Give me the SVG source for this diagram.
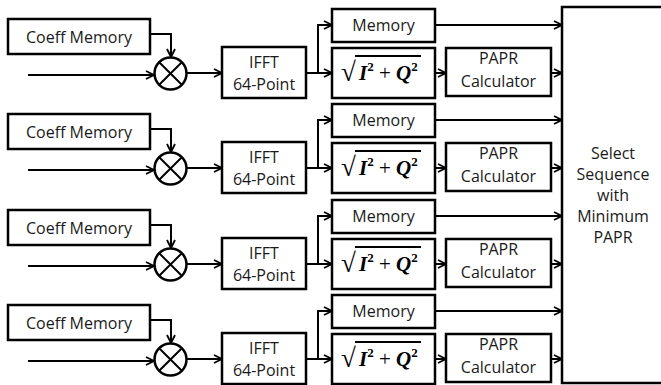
<svg xmlns="http://www.w3.org/2000/svg" width="661" height="385" viewBox="0 0 661 385">
<defs>
<style>
.box{fill:#fff;stroke:#000;stroke-width:2.5}
.lbl{font-family:"Open Sans","Liberation Sans",sans-serif;font-size:16px;fill:#1a1a1a;text-anchor:middle}
.ln{fill:none;stroke:#000;stroke-width:2}
.arr{fill:none;stroke:#000;stroke-width:2;marker-end:url(#ah)}
.fm{font-family:"Liberation Serif","Times New Roman",serif;font-weight:bold;font-style:italic;font-size:21px;fill:#000}
.sup{font-size:13px;font-style:normal;font-weight:bold}
.op{font-weight:normal;font-style:normal}
.rad{font-family:"Liberation Serif",serif;font-size:27px;fill:#000}
</style>
<marker id="ah" markerWidth="10" markerHeight="10" refX="9" refY="5" orient="auto" markerUnits="userSpaceOnUse">
<path d="M1,1 L9,5 L1,9" fill="none" stroke="#000" stroke-width="1.8"/>
</marker>
<g id="tplCoeff"><rect class="box" x="8" y="19" width="142" height="35"/><text class="lbl" x="79" y="42.5">Coeff Memory</text></g>
<g id="tplMult"><circle class="box" cx="170.5" cy="73.5" r="16"/><path class="ln" d="M159.2,62.2 L181.8,84.8 M181.8,62.2 L159.2,84.8"/></g>
<g id="tplIfft"><rect class="box" x="222" y="47" width="84" height="51"/><text class="lbl" x="264" y="68">IFFT</text><text class="lbl" x="264" y="90">64-Point</text></g>
<g id="tplMem"><rect class="box" x="332" y="9" width="103" height="33"/><text class="lbl" x="383.5" y="31">Memory</text></g>
<g id="tplSqrt"><rect class="box" x="332" y="48" width="103" height="50"/><text class="rad" x="341" y="81">√</text><line class="ln" x1="355" y1="56" x2="421" y2="56" stroke-width="1.3"/><text class="fm" x="359" y="80"><tspan>I</tspan><tspan class="sup" dy="-9">2</tspan><tspan class="op" dy="9"> + </tspan><tspan>Q</tspan><tspan class="sup" dy="-9">2</tspan></text></g>
<g id="tplPapr"><rect class="box" x="446" y="48" width="105" height="48"/><text class="lbl" x="498.5" y="64">PAPR</text><text class="lbl" x="498.5" y="87">Calculator</text></g>
<g id="tplConn">
<path class="arr" d="M28,75 H154"/>
<path class="arr" d="M150,34 H171 V57"/>
<path class="arr" d="M187,73 H222"/>
<path class="arr" d="M306,73 H332"/>
<path class="arr" d="M318,73 V25 H332"/>
<path class="arr" d="M435,25 H562"/>
<path class="arr" d="M435,73 H446"/>
<path class="arr" d="M551,73 H562"/>
</g>
</defs>
<rect x="0" y="0" width="661" height="385" fill="#fff"/>
<g id="connectors">
<use href="#tplConn"/>
<use href="#tplConn" transform="translate(0,95)"/>
<use href="#tplConn" transform="translate(0,191)"/>
<use href="#tplConn" transform="translate(0,286)"/>
</g>
<g id="coeff1"><use href="#tplCoeff"/></g>
<g id="mult1"><use href="#tplMult"/></g>
<g id="ifft1"><use href="#tplIfft"/></g>
<g id="memory1"><use href="#tplMem"/></g>
<g id="sqrt1"><use href="#tplSqrt"/></g>
<g id="papr1"><use href="#tplPapr"/></g>
<g id="coeff2" transform="translate(0,95)"><use href="#tplCoeff"/></g>
<g id="mult2" transform="translate(0,95)"><use href="#tplMult"/></g>
<g id="ifft2" transform="translate(0,95)"><use href="#tplIfft"/></g>
<g id="memory2" transform="translate(0,95)"><use href="#tplMem"/></g>
<g id="sqrt2" transform="translate(0,95)"><use href="#tplSqrt"/></g>
<g id="papr2" transform="translate(0,95)"><use href="#tplPapr"/></g>
<g id="coeff3" transform="translate(0,191)"><use href="#tplCoeff"/></g>
<g id="mult3" transform="translate(0,191)"><use href="#tplMult"/></g>
<g id="ifft3" transform="translate(0,191)"><use href="#tplIfft"/></g>
<g id="memory3" transform="translate(0,191)"><use href="#tplMem"/></g>
<g id="sqrt3" transform="translate(0,191)"><use href="#tplSqrt"/></g>
<g id="papr3" transform="translate(0,191)"><use href="#tplPapr"/></g>
<g id="coeff4" transform="translate(0,286)"><use href="#tplCoeff"/></g>
<g id="mult4" transform="translate(0,286)"><use href="#tplMult"/></g>
<g id="ifft4" transform="translate(0,286)"><use href="#tplIfft"/></g>
<g id="memory4" transform="translate(0,286)"><use href="#tplMem"/></g>
<g id="sqrt4" transform="translate(0,286)"><use href="#tplSqrt"/></g>
<g id="papr4" transform="translate(0,286)"><use href="#tplPapr"/></g>
<g id="select">
<rect class="box" x="562" y="7" width="110" height="376"/>
<text class="lbl"><tspan x="613" y="159">Select</tspan><tspan x="613" y="180">Sequence</tspan><tspan x="613" y="201">with</tspan><tspan x="613" y="222">Minimum</tspan><tspan x="613" y="243">PAPR</tspan></text>
</g>
</svg>
